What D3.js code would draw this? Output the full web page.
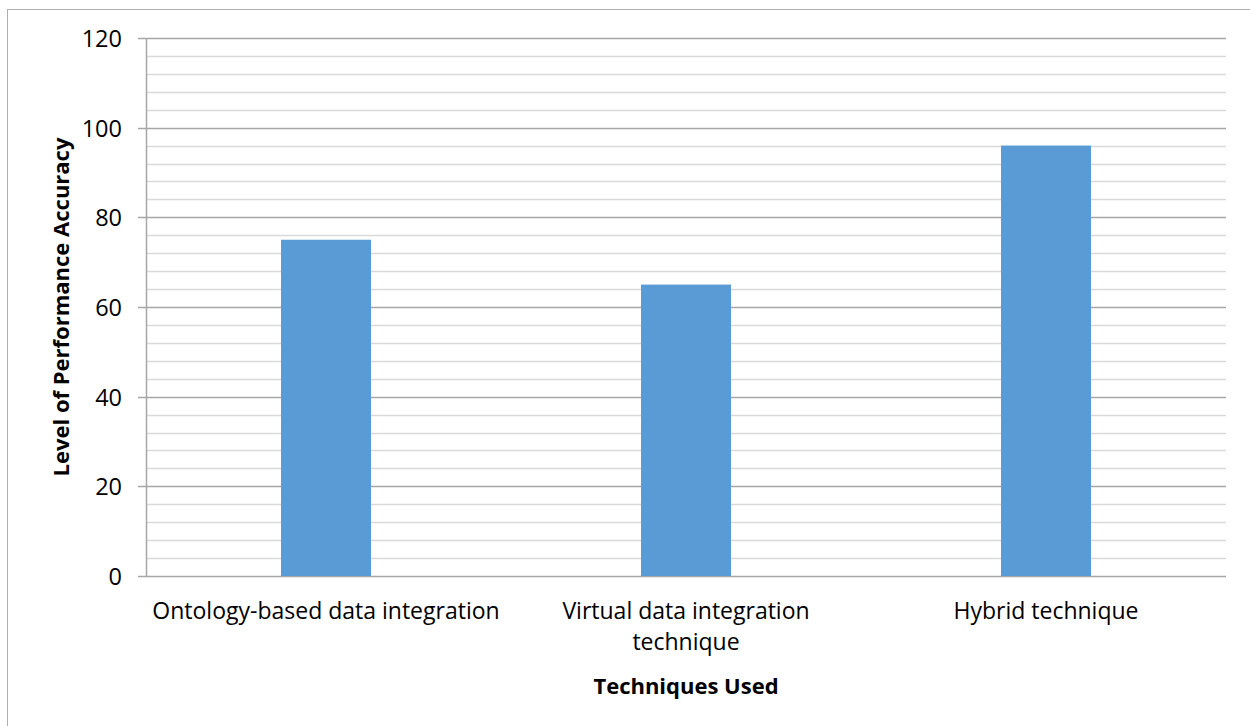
<!DOCTYPE html>
<html>
<head>
<meta charset="utf-8">
<script src="https://cdn.jsdelivr.net/npm/d3@7"></script>
<style>
  body{margin:0;background:#fff}
  text{font-family:"Open Sans","Noto Sans",sans-serif;fill:#000}
</style>
</head>
<body>
<script>
const categories=[["Ontology-based data integration"],["Virtual data integration","technique"],["Hybrid technique"]]
const values=[75,65,96]
const yTicks=[0,20,40,60,80,100,120]

const width=1250
const height=726
const margin={top:38,right:24,bottom:150,left:146}

const svg=d3.select("body").append("svg")
            .attr("width",width)
            .attr("height",height)

// outer chart frame
svg.append("rect")
   .attr("x",7.5).attr("y",9.5)
   .attr("width",width).attr("height",height)
   .attr("fill","none").attr("stroke","#b0b0b0")

const x=d3.scaleBand()
          .domain(d3.range(categories.length))
          .range([margin.left,width-margin.right])
          .paddingInner(0).paddingOuter(0)

const y=d3.scaleLinear()
          .domain([0,120])
          .range([height-margin.bottom,margin.top])

// minor gridlines
svg.append("g")
   .selectAll("line")
   .data(d3.range(4,120,4).filter(v=>v%20!=0))
   .enter().append("line")
   .attr("x1",margin.left).attr("x2",width-margin.right)
   .attr("y1",d=>Math.round(y(d))+0.5).attr("y2",d=>Math.round(y(d))+0.5)
   .attr("stroke","#d9d9d9").attr("stroke-width",1.5)

// major gridlines with ticks
svg.append("g")
   .selectAll("line")
   .data(yTicks)
   .enter().append("line")
   .attr("x1",margin.left-8).attr("x2",width-margin.right)
   .attr("y1",d=>Math.round(y(d))+0.5).attr("y2",d=>Math.round(y(d))+0.5)
   .attr("stroke","#a6a6a6").attr("stroke-width",1.5)

// bars
svg.append("g")
   .selectAll("rect")
   .data(values)
   .enter().append("rect")
   .attr("x",(d,i)=>x(i)+x.bandwidth()*0.375)
   .attr("width",x.bandwidth()*0.25)
   .attr("y",d=>y(d))
   .attr("height",d=>y(0)-y(d))
   .attr("fill","#5b9bd5")

// y axis line
svg.append("line")
   .attr("x1",margin.left+0.5).attr("x2",margin.left+0.5)
   .attr("y1",y(120)).attr("y2",y(0))
   .attr("stroke","#a6a6a6").attr("stroke-width",1.5)

svg.append("g")
   .selectAll("text")
   .data(yTicks)
   .enter().append("text")
   .attr("x",margin.left-24)
   .attr("y",d=>y(d)+9)
   .attr("text-anchor","end")
   .attr("font-size","23.5px")
   .text(d=>d)

// category labels
svg.append("g")
   .selectAll("text")
   .data(categories)
   .enter().append("text")
   .attr("text-anchor","middle")
   .attr("font-size","23px")
   .selectAll("tspan")
   .data((d,i)=>d.map(t=>({t,i})))
   .enter().append("tspan")
   .attr("x",d=>x(d.i)+x.bandwidth()/2)
   .attr("y",(d,j)=>619+j*31)
   .text(d=>d.t)

svg.append("text")
   .attr("x",x(1)+x.bandwidth()/2)
   .attr("y",694)
   .attr("text-anchor","middle")
   .attr("font-size","22px")
   .attr("font-weight","bold")
   .text("Techniques Used")

svg.append("text")
   .attr("transform","translate(69,"+((y(0)+y(120))/2)+") rotate(-90)")
   .attr("text-anchor","middle")
   .attr("font-size","22px")
   .attr("font-weight","bold")
   .text("Level of Performance Accuracy")
</script>
</body>
</html>
